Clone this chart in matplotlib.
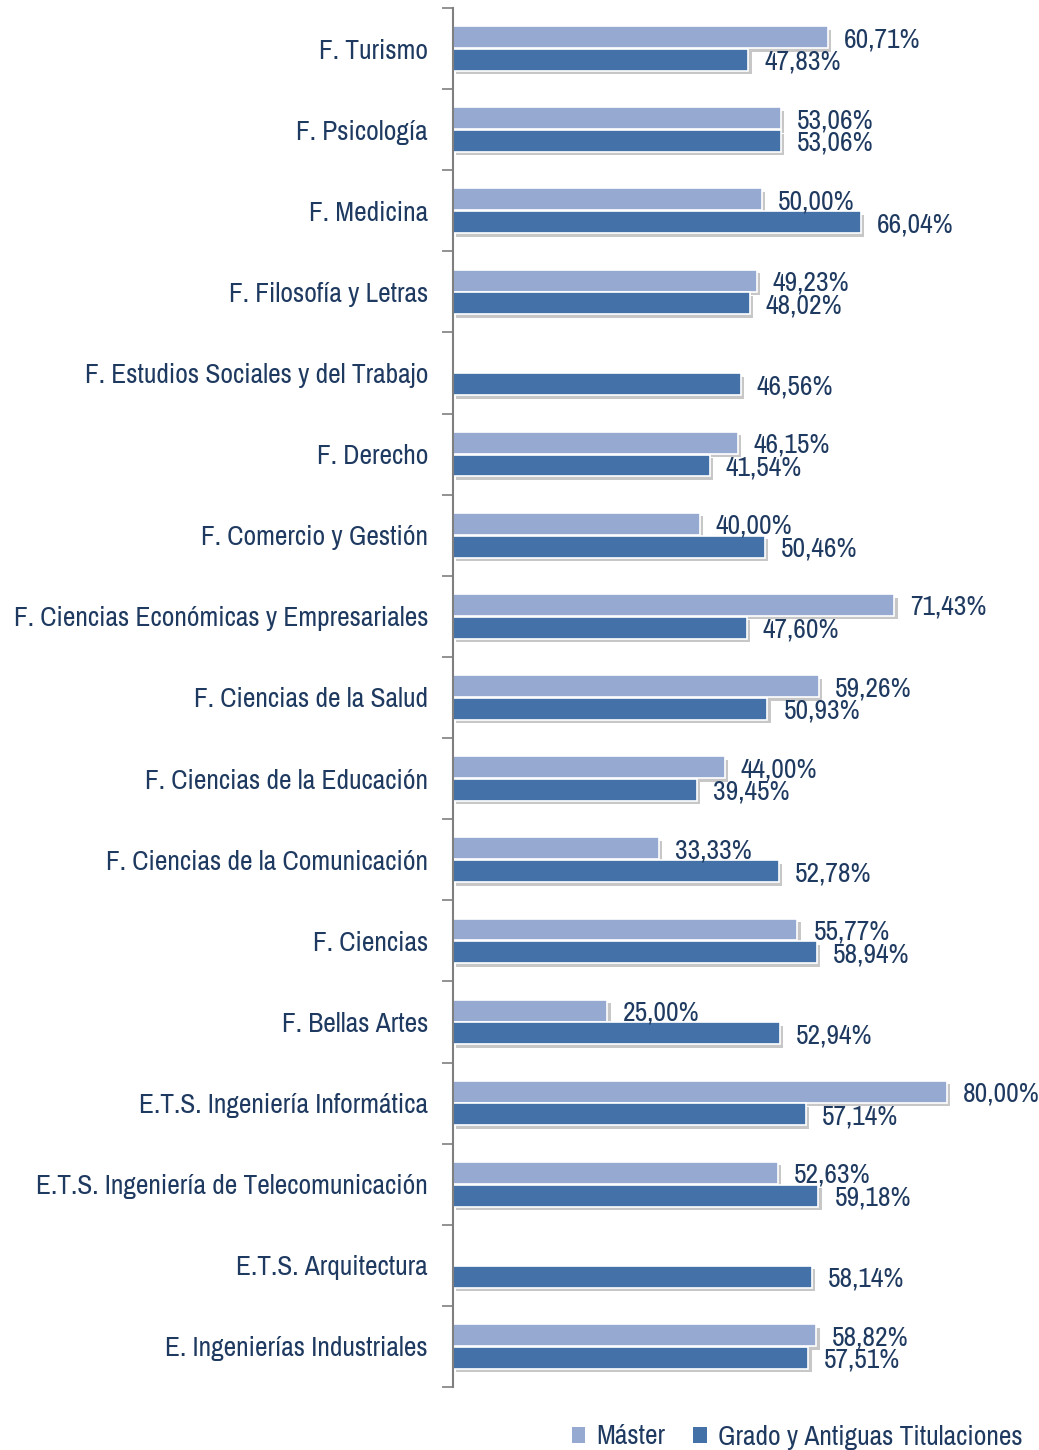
import matplotlib
matplotlib.use("Agg")
import matplotlib.pyplot as plt
import matplotlib.patheffects as pe
from matplotlib.patches import Patch
import numpy as np
from matplotlib.font_manager import fontManager

names = {f.name for f in fontManager.ttflist}
FONT = "DejaVu Sans"
for cand in ["Liberation Sans Narrow", "Arimo Narrow", "Archivo Narrow", "Roboto Condensed", "Liberation Sans"]:
    if cand in names:
        FONT = cand
        break
plt.rcParams['font.family'] = [FONT, 'DejaVu Sans']

categories = [
    "F. Turismo", "F. Psicología", "F. Medicina", "F. Filosofía y Letras",
    "F. Estudios Sociales y del Trabajo", "F. Derecho", "F. Comercio y Gestión",
    "F. Ciencias Económicas y Empresariales", "F. Ciencias de la Salud",
    "F. Ciencias de la Educación", "F. Ciencias de la Comunicación", "F. Ciencias",
    "F. Bellas Artes", "E.T.S. Ingeniería Informática",
    "E.T.S. Ingeniería de Telecomunicación", "E.T.S. Arquitectura",
    "E. Ingenierías Industriales",
]
master = [60.71, 53.06, 50.00, 49.23, None, 46.15, 40.00, 71.43, 59.26, 44.00,
          33.33, 55.77, 25.00, 80.00, 52.63, None, 58.82]
grado = [47.83, 53.06, 66.04, 48.02, 46.56, 41.54, 50.46, 47.60, 50.93, 39.45,
         52.78, 58.94, 52.94, 57.14, 59.18, 58.14, 57.51]
series_names = ["Máster", "Grado y Antiguas Titulaciones"]

C_M = "#95a9d1"
C_G = "#4472a8"
TXT = "#1f3a60"
FS = 19.8

W, H = 1039, 1450
fig = plt.figure(figsize=(W / 100, H / 100), dpi=100)
x0, x1 = 453, 1039
y_top, y_bot = 8, 1387
ax = fig.add_axes([x0 / W, 1 - y_bot / H, (x1 - x0) / W, (y_bot - y_top) / H])
px_per_unit = 6.175
ax.set_xlim(0, (x1 - x0) / px_per_unit)
n = len(categories)
ax.set_ylim(n - 0.5, -0.5)

shadow = [pe.SimplePatchShadow(offset=(2.5, -2.5), shadow_rgbFace="#b0b0b0", alpha=0.7), pe.Normal()]
bh = 0.27
off = 0.14
dy = 0.03
for i, (m, g) in enumerate(zip(master, grado)):
    if m is not None:
        b = ax.barh(i - off, m, height=bh, color=C_M, edgecolor="white", linewidth=1.2)
        b[0].set_path_effects(shadow)
        ax.text(m + 16 / px_per_unit, i - off + dy, f"{m:.2f}%".replace(".", ","),
                va="center", ha="left", fontsize=FS, color=TXT)
    b = ax.barh(i + off, g, height=bh, color=C_G, edgecolor="white", linewidth=1.2)
    b[0].set_path_effects(shadow)
    ax.text(g + 16 / px_per_unit, i + off + dy, f"{g:.2f}%".replace(".", ","),
            va="center", ha="left", fontsize=FS, color=TXT)

ax.set_yticks(np.arange(n))
ax.set_yticklabels(categories, fontsize=FS, color=TXT)
ax.tick_params(axis="y", which="major", length=0, pad=18)
ax.set_yticks(np.arange(-0.5, n, 1), minor=True)
ax.tick_params(axis="y", which="minor", length=8, width=1.2, color="#7f7f7f")
ax.set_xticks([])
for s in ["top", "right", "bottom"]:
    ax.spines[s].set_visible(False)
ax.spines["left"].set_color("#7f7f7f")
ax.spines["left"].set_linewidth(1.5)

handles = [Patch(facecolor=C_M), Patch(facecolor=C_G)]
fig.legend(handles, series_names, loc="center", bbox_to_anchor=(797 / W, 1 - 1437 / H),
           ncol=2, frameon=False, fontsize=FS, labelcolor=TXT, handlelength=0.5,
           handleheight=0.5, handletextpad=0.4, columnspacing=1.0)

fig.savefig("out.png", dpi=100)
